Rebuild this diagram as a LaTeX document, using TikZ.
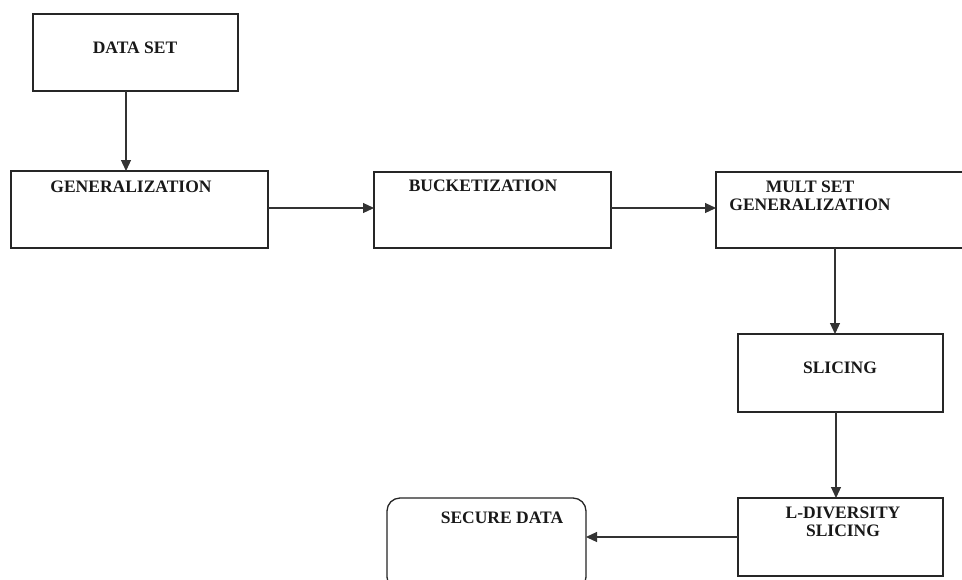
\documentclass[tikz,border=0pt]{standalone}
\usepackage{fontspec}
\setmainfont{Liberation Serif}
\usetikzlibrary{arrows.meta}
\begin{document}
\begin{tikzpicture}[x=1pt,y=-1pt,
  box/.style={draw=black!85,line width=1.3pt,minimum width=#1,inner sep=0pt,outer sep=0pt},
  lbl/.style={font=\fontsize{17.5}{18.5}\selectfont\bfseries,inner sep=0pt,align=center,text=black!90},
  arr/.style={draw=black!80,line width=1.2pt,-{Triangle[length=11pt,width=10pt]}}]
\clip (0,0) rectangle (962,579);
\fill[white] (0,0) rectangle (962,579);
% boxes
\node[box=205pt,minimum height=77pt] (ds) at (135.5,52.5) {};
\node[box=257pt,minimum height=77pt] (gen) at (139.5,209.5) {};
\node[box=237pt,minimum height=76pt] (buck) at (492.5,210) {};
\node[box=259pt,minimum height=76pt] (mult) at (845.5,210) {};
\node[box=205pt,minimum height=78pt] (sl) at (840.5,373) {};
\node[box=205pt,minimum height=78pt] (ld) at (840.5,537) {};
\node[box=199pt,minimum height=92pt,rounded corners=13pt] (sd) at (486.5,544) {};
% labels
\node[lbl] (tds) at (135,48) {DATA SET};
\node[lbl] (tgen) at (131,187) {GENERALIZATION};
\node[lbl] (tbuck) at (483,186) {BUCKETIZATION};
\node[lbl] (tmult) at (810,196) {MULT SET\\GENERALIZATION};
\node[lbl] (tsl) at (840,368) {SLICING};
\node[lbl] (tld) at (843,522) {L-DIVERSITY\\SLICING};
\node[lbl] (tsd) at (502,518) {SECURE DATA};
% connector guide coordinates
\coordinate (c1) at (126,0);
\coordinate (r1) at (0,208);
\coordinate (c2) at (835,0);
\coordinate (c3) at (836,0);
\coordinate (r2) at (0,537);
% connectors
\draw[arr] (ds.south -| c1) -- (gen.north -| c1);
\draw[arr] (gen.east |- r1) -- (buck.west |- r1);
\draw[arr] (buck.east |- r1) -- (mult.west |- r1);
\draw[arr] (mult.south -| c2) -- (sl.north -| c2);
\draw[arr] (sl.south -| c3) -- (ld.north -| c3);
\draw[arr] (ld.west |- r2) -- (sd.east |- r2);
\end{tikzpicture}
\end{document}
